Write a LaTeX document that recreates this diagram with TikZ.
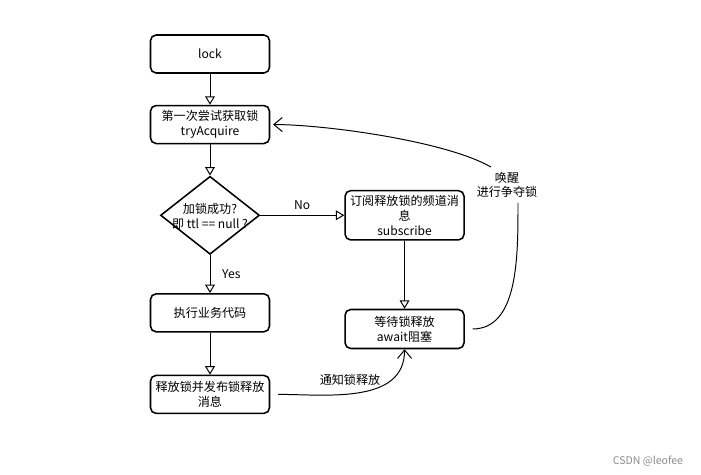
\documentclass[tikz,border=0pt]{standalone}
\usepackage{fontspec}
\setmainfont{Noto Sans CJK SC}
\usetikzlibrary{positioning,shapes.geometric,arrows.meta}

\begin{document}
\begin{tikzpicture}[node distance=.8cm,
  box/.style={draw,line width=1.1pt,rounded corners=4pt,minimum width=2.975cm,minimum height=0.95cm,align=center,font=\fontsize{8.6}{10.5}\selectfont},
  txt/.style={align=center,font=\fontsize{8.6}{10.5}\selectfont},
  flow/.style={-{Triangle[open,length=6pt,width=7pt]},line width=0.7pt},
  back/.style={-{Straight Barb[length=6pt,width=10pt]},line width=0.7pt}]
\useasboundingbox (-5.25,1.35) rectangle (12.275,-10.525);
\node[box] (0) at (0,0) {lock};
\node[box] (1) [below=.775cm of 0] {第一次尝试获取锁\\tryAcquire};
\node[draw,line width=1.1pt,diamond,minimum width=2.475cm,minimum height=1.95cm,inner sep=0pt] (2) [below=.78cm of 1] {};
\node[txt] (2t) at ([yshift=-1pt]2) {加锁成功?\\即 ttl == null ?};
\node[box] (3) [below=.95cm of 2] {执行业务代码};
\node[box] (4) [below=1.05cm of 3] {释放锁并发布锁释放\\消息};
\node[box,minimum height=1.15cm] (5) [right=2.1cm of 2] {订阅释放锁的频道消\\息\\subscribe};
\node[box,minimum height=0.975cm] (6) [below=1.7cm of 5] {等待锁释放\\await阻塞};
\node[txt] (7) at (7.425,-3.275) {唤醒\\进行争夺锁};
\node[text=black!45,font=\fontsize{7.5}{9}\selectfont] (9) at (10.95,-10.175) {CSDN @leofee};
% flow
\draw[flow](0)--(1);
\draw[flow](1)--(2);
\draw[flow](2)--node[midway,right=5pt,txt] (y) {Yes}(3);
\draw[flow](3)--(4);
\draw[flow](2)--node[midway,above,txt] (n) {No}(5);
\draw[flow](5)--(6);
% notify and wake up
\draw[back,shorten <=5.5pt](4.east) to[out=0,in=-90] node[pos=.45,above=2pt,txt] (8) {通知锁释放} (6.south);
\draw[line width=0.7pt,shorten <=5.5pt](6.east) to[out=0,in=-90] ([xshift=.275cm]7.south);
\draw[back]([xshift=-.4cm]7.north) to[out=150,in=0,looseness=.6] ([xshift=2pt]1.east);
\end{tikzpicture}
\end{document}
